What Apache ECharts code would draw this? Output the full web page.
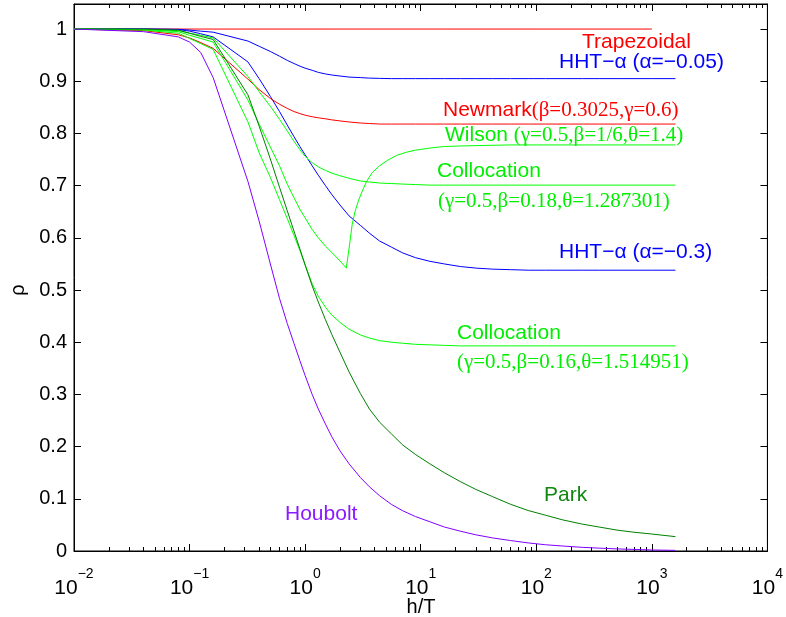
<!DOCTYPE html>
<html>
<head>
<meta charset="utf-8">
<script src="https://cdn.jsdelivr.net/npm/echarts@6.0.0/dist/echarts.min.js"></script>
<style>
  html, body { margin: 0; padding: 0; background: #fff; }
  #chart { width: 786px; height: 617px; }
</style>
</head>
<body>
<div id="chart"></div>
<script>
// h/T sample points shared by most curves
const hT = [0.01, 0.04, 0.08, 0.1, 0.125, 0.16, 0.32, 0.4, 0.5, 0.6, 0.7, 0.8, 0.9, 1, 1.15, 1.3, 1.5, 1.7, 2, 2.4, 3, 3.6, 4.4, 5.6, 7, 9, 12, 16, 22, 30, 42, 60, 85, 120, 170, 250, 350, 500, 700, 1000, 1600];

// spectral radius
const hht005 = [1, 1, 0.9995, 0.998, 0.996, 0.994, 0.977, 0.967, 0.957, 0.948, 0.940, 0.934, 0.929, 0.925, 0.921, 0.917, 0.914, 0.912, 0.910, 0.908, 0.907, 0.906, 0.9055, 0.905, 0.905, 0.905, 0.905, 0.905, 0.905, 0.905, 0.905, 0.905, 0.905, 0.905, 0.905, 0.905, 0.905, 0.905, 0.905, 0.905, 0.905];
const hht03 = [1, 1, 0.999, 0.996, 0.991, 0.985, 0.937, 0.905, 0.871, 0.842, 0.816, 0.794, 0.775, 0.759, 0.738, 0.720, 0.700, 0.683, 0.663, 0.642, 0.624, 0.609, 0.594, 0.582, 0.571, 0.562, 0.555, 0.550, 0.545, 0.542, 0.540, 0.539, 0.538, 0.538, 0.538, 0.538, 0.538, 0.538, 0.538, 0.538, 0.538];
const newmark = [1, 0.997, 0.989, 0.983, 0.974, 0.963, 0.904, 0.884, 0.867, 0.856, 0.848, 0.842, 0.838, 0.835, 0.832, 0.830, 0.828, 0.826, 0.824, 0.822, 0.820, 0.819, 0.818, 0.818, 0.818, 0.818, 0.818, 0.818, 0.818, 0.818, 0.818, 0.818, 0.818, 0.818, 0.818, 0.818, 0.818, 0.818, 0.818, 0.818, 0.818];
const col1287 = [1, 0.999, 0.997, 0.992, 0.988, 0.983, 0.909, 0.880, 0.852, 0.827, 0.805, 0.785, 0.769, 0.756, 0.744, 0.736, 0.729, 0.724, 0.719, 0.714, 0.709, 0.707, 0.705, 0.704, 0.703, 0.702, 0.701, 0.701, 0.701, 0.701, 0.701, 0.701, 0.701, 0.701, 0.701, 0.701, 0.701, 0.701, 0.701, 0.701, 0.701];
const col1515 = [1, 0.998, 0.992, 0.982, 0.972, 0.961, 0.822, 0.763, 0.716, 0.673, 0.637, 0.605, 0.576, 0.548, 0.512, 0.488, 0.467, 0.452, 0.438, 0.425, 0.414, 0.408, 0.403, 0.400, 0.398, 0.396, 0.395, 0.394, 0.393, 0.393, 0.393, 0.393, 0.393, 0.393, 0.393, 0.393, 0.393, 0.393, 0.393, 0.393, 0.393];
const park = [1, 1, 0.998, 0.992, 0.986, 0.980, 0.874, 0.814, 0.751, 0.697, 0.652, 0.613, 0.579, 0.548, 0.508, 0.477, 0.443, 0.415, 0.381, 0.343, 0.302, 0.272, 0.247, 0.224, 0.203, 0.185, 0.167, 0.150, 0.133, 0.118, 0.104, 0.0894, 0.0776, 0.0686, 0.0595, 0.0515, 0.0459, 0.040, 0.036, 0.0325, 0.0275];
const houbolt = [1, 0.995, 0.985, 0.975, 0.955, 0.907, 0.708, 0.632, 0.550, 0.484, 0.436, 0.398, 0.365, 0.336, 0.300, 0.272, 0.243, 0.219, 0.192, 0.167, 0.141, 0.123, 0.106, 0.089, 0.077, 0.066, 0.056, 0.046, 0.038, 0.031, 0.025, 0.020, 0.0155, 0.012, 0.0095, 0.007, 0.0055, 0.004, 0.003, 0.002, 0.0012];

// Wilson has a cusp, so its own sample points
const wilsonX = [0.01, 0.04, 0.08, 0.1, 0.125, 0.16, 0.32, 0.4, 0.5, 0.6, 0.7, 0.8, 0.9, 1, 1.15, 1.3, 1.5, 1.7, 2, 2.27, 2.4, 2.55, 2.7, 2.9, 3.1, 3.4, 3.8, 4.4, 5.2, 6.2, 7.5, 9, 12, 16, 22, 35, 60, 100, 1600];
const wilson = [1, 0.999, 0.995, 0.988, 0.982, 0.975, 0.864, 0.818, 0.774, 0.738, 0.703, 0.677, 0.655, 0.638, 0.616, 0.600, 0.584, 0.572, 0.556, 0.542, 0.580, 0.625, 0.650, 0.672, 0.688, 0.708, 0.725, 0.738, 0.749, 0.758, 0.764, 0.768, 0.772, 0.775, 0.776, 0.777, 0.778, 0.778, 0.778];

const trapX = [0.01, 1000];
const trap = [1, 1];

const yTicks = [0, 0.1, 0.2, 0.3, 0.4, 0.5, 0.6, 0.7, 0.8, 0.9, 1];

const SANS = '"Liberation Sans", Arial, Helvetica, sans-serif';
const SERIF = '"Liberation Serif", "Times New Roman", serif';

const pairs = (xs, ys) => xs.map((x, i) => [x, ys[i]]);

// minor ticks 2..9 of each decade
const xMinor = [];
for (let d = -2; d < 4; d++) {
  for (let k = 2; k <= 9; k++) xMinor.push(Number((k * Math.pow(10, d)).toPrecision(3)));
}

const chart = echarts.init(document.getElementById('chart'));

const supLabel = (v) => {
  const e = Math.round(Math.log10(v));
  return '{b|10}{s|' + (e < 0 ? '\u2212' + (-e) : e) + '}';
};

const baseX = {
  type: 'log',
  logBase: 10,
  min: 0.01,
  max: 10000,
  gridIndex: 0,
  show: true,
  splitLine: { show: false },
  axisLine: { show: true, onZero: false, lineStyle: { color: '#000', width: 1 } },
};

const yMax = 1.048;
const GRID = { left: 74, right: 18, top: 4, bottom: 66 };

const option = {
  animation: false,
  backgroundColor: '#fff',
  grid: Object.assign({
    show: true, borderColor: '#000', borderWidth: 1, backgroundColor: 'transparent'
  }, GRID),
  xAxis: [
    Object.assign({}, baseX, {
      position: 'bottom',
      axisTick: { inside: true, length: 7, lineStyle: { color: '#000' } },
      axisLabel: {
        margin: 16,
        color: '#000',
        formatter: supLabel,
        rich: {
          b: { fontSize: 21, fontFamily: SANS, color: '#000', lineHeight: 32, verticalAlign: 'bottom' },
          s: { fontSize: 14, fontFamily: SANS, color: '#000', lineHeight: 8, verticalAlign: 'top' }
        }
      }
    }),
    Object.assign({}, baseX, {
      position: 'top',
      axisTick: { show: true, inside: true, length: 7, lineStyle: { color: '#000' } },
      axisLabel: { show: false }
    }),
    Object.assign({}, baseX, {
      position: 'bottom',
      axisLine: { show: false, onZero: false },
      axisTick: { show: true, inside: true, length: 4, customValues: xMinor, lineStyle: { color: '#000' } },
      axisLabel: { show: false }
    }),
    Object.assign({}, baseX, {
      position: 'top',
      axisLine: { show: false, onZero: false },
      axisTick: { show: true, inside: true, length: 4, customValues: xMinor, lineStyle: { color: '#000' } },
      axisLabel: { show: false }
    })
  ],
  yAxis: [
    {
      type: 'value',
      position: 'left',
      min: 0,
      max: yMax,
      interval: 0.1,
      splitLine: { show: false },
      axisLine: { onZero: false, lineStyle: { color: '#000' } },
      axisTick: { inside: true, length: 7, customValues: yTicks, lineStyle: { color: '#000' } },
      axisLabel: {
        customValues: yTicks,
        margin: 7,
        color: '#000',
        fontSize: 20,
        fontFamily: SANS,
        formatter: (v) => String(Math.round(v * 10) / 10)
      }
    },
    {
      type: 'value',
      position: 'right',
      min: 0,
      max: yMax,
      interval: 0.1,
      splitLine: { show: false },
      axisLine: { onZero: false, lineStyle: { color: '#000' } },
      axisTick: { inside: true, length: 7, customValues: yTicks, lineStyle: { color: '#000' } },
      axisLabel: { show: false }
    }
  ],
  series: [
    { name: 'Trapezoidal', data: pairs(trapX, trap), color: '#ff0000' },
    { name: 'HHT -0.05', data: pairs(hT, hht005), color: '#0000ff' },
    { name: 'HHT -0.3', data: pairs(hT, hht03), color: '#0000ff' },
    { name: 'Newmark', data: pairs(hT, newmark), color: '#ff0000' },
    { name: 'Wilson', data: pairs(wilsonX, wilson), color: '#00ff00' },
    { name: 'Collocation 1.287301', data: pairs(hT, col1287), color: '#00ff00' },
    { name: 'Collocation 1.514951', data: pairs(hT, col1515), color: '#00ff00' },
    { name: 'Park', data: pairs(hT, park), color: '#008000' },
    { name: 'Houbolt', data: pairs(hT, houbolt), color: '#8000ff' }
  ].map(s => ({
    type: 'line',
    name: s.name,
    data: s.data,
    xAxisIndex: 0,
    yAxisIndex: 0,
    symbol: 'none',
    showSymbol: false,
    silent: true,
    lineStyle: { color: s.color, width: 1 },
    itemStyle: { color: s.color }
  })),
  graphic: []
};

// curve labels
const labels = [
  { x: 582, y: 42, color: '#ff0000', sans: 'Trapezoidal', serif: '' },
  { x: 559, y: 62, color: '#0000ff', sans: 'HHT\u2212\u03b1 (\u03b1=\u22120.05)', serif: '' },
  { x: 443, y: 110, color: '#ff0000', sans: 'Newmark', serif: '(\u03b2=0.3025,\u03b3=0.6)' },
  { x: 445, y: 135, color: '#00ee00', sans: 'Wilson ', serif: '(\u03b3=0.5,\u03b2=1/6,\u03b8=1.4)' },
  { x: 437, y: 171, color: '#00ee00', sans: 'Collocation', serif: '' },
  { x: 438, y: 201, color: '#00ee00', sans: '', serif: '(\u03b3=0.5,\u03b2=0.18,\u03b8=1.287301)' },
  { x: 559, y: 252, color: '#0000ff', sans: 'HHT\u2212\u03b1 (\u03b1=\u22120.3)', serif: '' },
  { x: 457, y: 333, color: '#00ee00', sans: 'Collocation', serif: '' },
  { x: 457, y: 362, color: '#00ee00', sans: '', serif: '(\u03b3=0.5,\u03b2=0.16,\u03b8=1.514951)' },
  { x: 544, y: 495, color: '#118811', sans: 'Park', serif: '' },
  { x: 285, y: 514, color: '#8a1aff', sans: 'Houbolt', serif: '' }
];

option.graphic = labels.map(l => {
  let text = '';
  if (l.sans) text += '{a|' + l.sans + '}';
  if (l.serif) text += '{b|' + l.serif + '}';
  return {
    type: 'text',
    x: l.x,
    y: l.y,
    silent: true,
    style: {
      text: text,
      align: 'left',
      verticalAlign: 'middle',
      fill: l.color,
      rich: {
        a: { fontFamily: SANS, fontSize: 21, fill: l.color, color: l.color },
        b: { fontFamily: SERIF, fontSize: 21, fill: l.color, color: l.color }
      }
    }
  };
});

// axis titles and the top edge of the box
option.graphic.push(
  { type: 'text', x: 421, y: 607, silent: true,
    style: { text: 'h/T', align: 'center', verticalAlign: 'middle', fill: '#000', font: '20px ' + SANS } },
  { type: 'text', x: 18, y: 290, rotation: Math.PI / 2, silent: true,
    style: { text: '\u03c1', align: 'center', verticalAlign: 'middle', fill: '#000', font: '20px ' + SANS } },
  { type: 'line', silent: true, z: 100,
    shape: { x1: GRID.left, y1: GRID.top + 0.5, x2: 786 - GRID.right, y2: GRID.top + 0.5 },
    style: { stroke: '#000', lineWidth: 1 } }
);

chart.setOption(option);
</script>
</body>
</html>
